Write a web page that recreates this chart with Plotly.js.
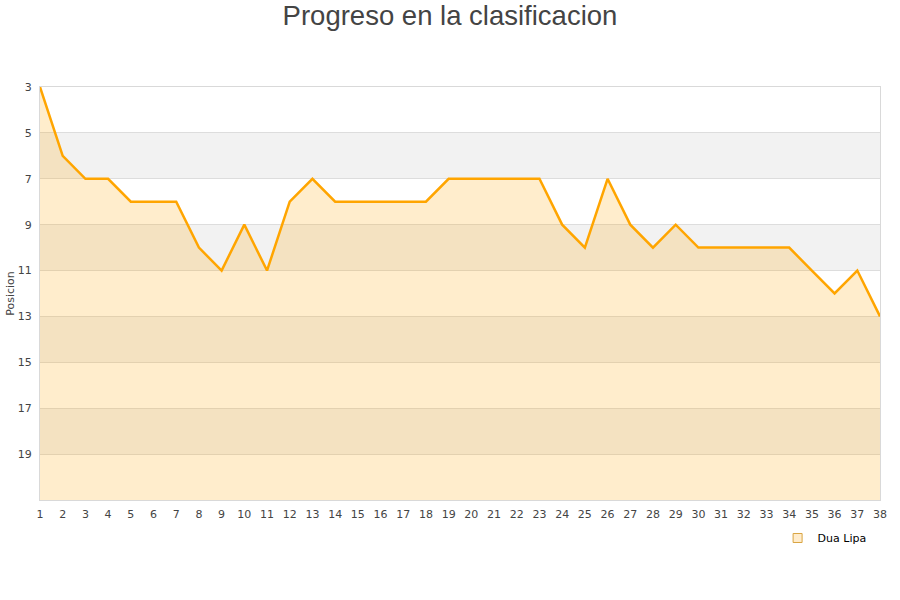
<!DOCTYPE html>
<html>
<head>
<meta charset="utf-8">
<script src="https://cdn.plot.ly/plotly-3.0.1.min.js"></script>
<style>html,body{margin:0;padding:0;background:#fff;}#chart{width:900px;height:600px;}</style>
</head>
<body>
<div id="chart"></div>
<script>
const weeks = [1,2,3,4,5,6,7,8,9,10,11,12,13,14,15,16,17,18,19,20,21,22,23,24,25,26,27,28,29,30,31,32,33,34,35,36,37,38];
const positions = [3,6,7,7,8,8,8,10,11,9,11,8,7,8,8,8,8,8,7,7,7,7,7,9,10,7,9,10,9,10,10,10,10,10,11,12,11,13];
const seriesName = "Dua Lipa";
const yTicks = [3,5,7,9,11,13,15,17,19];
const bandStarts = [5,9,13,17];
const yBottom = 21;

const baseline = {
  x: weeks, y: weeks.map(() => yBottom), mode: 'lines',
  line: {width: 0}, hoverinfo: 'skip', showlegend: false
};
const main = {
  x: weeks, y: positions, mode: 'lines', name: seriesName,
  fill: 'tonexty', fillcolor: 'rgba(255,165,0,0.2)',
  line: {color: '#FFA500', width: 2.5}, showlegend: false
};
const legendTrace = {
  x: [null], y: [null], mode: 'markers', name: seriesName,
  marker: {symbol: 'square', size: 9, color: 'rgba(255,236,204,1)', line: {color: '#d9a441', width: 1}}
};

const shapes = bandStarts.map(s => ({
  type: 'rect', xref: 'paper', yref: 'y', x0: 0, x1: 1, y0: s, y1: s + 2,
  fillcolor: '#f2f2f2', line: {width: 0}, layer: 'below'
}));

const layout = {
  width: 900, height: 600,
  margin: {l: 40, r: 20, t: 87, b: 100},
  paper_bgcolor: '#fff', plot_bgcolor: '#fff',
  title: {text: 'Progreso en la clasificacion', font: {family: 'Liberation Sans, Arial, sans-serif', size: 27.5, color: '#444'}, x: 0.5, xanchor: 'center', y: 0.975, yanchor: 'middle'},
  font: {family: 'DejaVu Sans, sans-serif', size: 11, color: '#444'},
  xaxis: {
    range: [1, 38], tickvals: weeks, ticktext: weeks.map(String),
    showgrid: false, zeroline: false, showline: true, linecolor: '#d9d9d9', linewidth: 1, mirror: true,
    ticks: 'outside', ticklen: 4, tickcolor: 'rgba(0,0,0,0)', tickfont: {size: 11, color: '#444'}
  },
  yaxis: {
    range: [yBottom, 3], tickvals: yTicks, ticktext: yTicks.map(String),
    showgrid: true, gridcolor: '#dddddd', gridwidth: 1, zeroline: false,
    showline: true, linecolor: '#d9d9d9', linewidth: 1, mirror: true,
    ticks: 'outside', ticklen: 5, tickcolor: 'rgba(0,0,0,0)', tickfont: {size: 11, color: '#444'},
    title: {text: 'Posicion', font: {size: 11, color: '#444'}, standoff: 0}
  },
  shapes: shapes,
  showlegend: true,
  legend: {orientation: 'h', x: 0.99, xanchor: 'right', y: -0.092, yanchor: 'middle', font: {size: 11, color: '#000'}, bgcolor: 'rgba(0,0,0,0)'}
};

Plotly.newPlot('chart', [baseline, main, legendTrace], layout, {displayModeBar: false, staticPlot: true});
</script>
</body>
</html>
